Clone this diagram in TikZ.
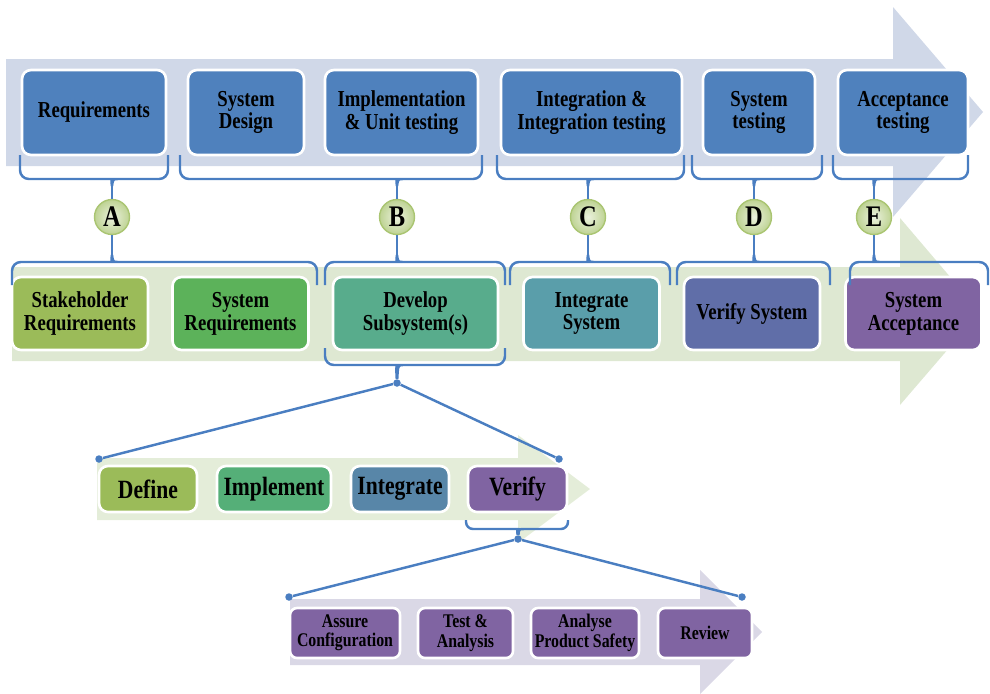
\documentclass[tikz,border=0pt]{standalone}
\usepackage{fontspec}
\setmainfont{Liberation Serif}[FakeStretch=0.82]
\usetikzlibrary{positioning}

\definecolor{phaseblue}{RGB}{79,129,189}
\definecolor{linec}{RGB}{74,126,193}
\definecolor{bandblue}{RGB}{208,216,232}
\definecolor{bandgreen}{RGB}{222,232,210}
\definecolor{bandlight}{RGB}{228,237,217}
\definecolor{bandlilac}{RGB}{218,216,230}
\definecolor{olive}{RGB}{155,187,89}
\definecolor{grass}{RGB}{92,178,90}
\definecolor{sea}{RGB}{88,172,140}
\definecolor{teal}{RGB}{90,158,170}
\definecolor{slate}{RGB}{96,110,168}
\definecolor{plum}{RGB}{128,100,162}
\definecolor{mint}{RGB}{85,175,120}
\definecolor{steel}{RGB}{88,134,168}

\begin{document}
\begin{tikzpicture}[x=0.02cm,y=-0.02cm,line join=round,
                    font=\bfseries\fontsize{13}{13}\selectfont]

  \tikzstyle{box} = [rectangle, rounded corners=0.18cm, draw=white, line width=1.5pt,
                     align=center, inner sep=0pt, text=black]
  \tikzstyle{phase} = [box, fill=phaseblue, minimum height=1.7cm]
  \tikzstyle{process} = [box, minimum height=1.46cm, minimum width=2.72cm]
  \tikzstyle{sub} = [box, minimum height=0.92cm, font=\bfseries\fontsize{15}{15}\selectfont]
  \tikzstyle{task} = [box, fill=plum, minimum height=1cm, rounded corners=0.14cm,
                      font=\bfseries\fontsize{11}{11}\selectfont]
  \tikzstyle{bracket} = [draw=linec, line width=1.4pt]
  \tikzstyle{gate} = [circle, draw=olive!85, line width=0.8pt, inner color=white!80!olive,
                      outer color=olive!65, minimum size=0.7cm, inner sep=0pt,
                      font=\bfseries\fontsize{17}{17}\selectfont]
  \tikzstyle{dot} = [circle, fill=linec, inner sep=0pt, minimum size=0.15cm]

  \useasboundingbox (0,0) rectangle (990,693);

  % background arrows
  \fill[bandblue] (6,59) -- (893,59) -- (893,7) -- (983,112) -- (893,217) -- (893,166) -- (6,166) -- cycle;
  \fill[bandgreen] (12,267) -- (900,267) -- (900,218) -- (980,312) -- (900,405) -- (900,361) -- (12,361) -- cycle;
  \fill[bandlight] (97,458) -- (518,458) -- (518,435) -- (590,489) -- (518,543) -- (518,520) -- (97,520) -- cycle;
  \fill[bandlilac] (290,599) -- (700,599) -- (700,570) -- (762,632) -- (700,694) -- (700,665) -- (290,665) -- cycle;

  % life cycle phases
  \node[phase, minimum width=2.88cm] (req)  at (94,112.5)    {Requirements};
  \node[phase, minimum width=2.32cm] (sysd) at (246,112.5)   {System\\Design};
  \node[phase, minimum width=3.06cm] (impl) at (401.5,112.5) {Implementation\\\& Unit testing};
  \node[phase, minimum width=3.62cm] (intg) at (591.5,112.5) {Integration \&\\Integration testing};
  \node[phase, minimum width=2.24cm] (syst) at (759,112.5)   {System\\testing};
  \node[phase, minimum width=2.6cm]  (acct) at (903,112.5)   {Acceptance\\testing};

  % processes
  \node[process, fill=olive] (stake) at (80,313.5)    {Stakeholder\\Requirements};
  \node[process, fill=grass] (sysr)  at (240.5,313.5) {System\\Requirements};
  \node[process, fill=sea, minimum width=3.3cm] (devs) at (415.5,313.5) {Develop\\Subsystem(s)};
  \node[process, fill=teal]  (ints)  at (591.5,313.5) {Integrate\\System};
  \node[process, fill=slate] (vers)  at (752,313.5)   {Verify System};
  \node[process, fill=plum]  (sacc)  at (913.5,313.5) {System\\Acceptance};

  \node[sub, fill=olive, minimum width=1.96cm] (def) at (148,489)   {Define};
  \node[sub, fill=mint,  minimum width=2.28cm] (imp) at (274,489)   {Implement};
  \node[sub, fill=steel, minimum width=1.96cm] (itg) at (400,489)   {Integrate};
  \node[sub, fill=plum,  minimum width=1.98cm] (ver) at (517.5,489) {Verify};

  \node[task, minimum width=2.2cm]  (conf) at (345,633)   {Assure\\Configuration};
  \node[task, minimum width=1.9cm]  (test) at (465.5,633) {Test \&\\Analysis};
  \node[task, minimum width=2.16cm] (safe) at (585,633)   {Analyse\\Product Safety};
  \node[task, minimum width=1.88cm] (rev)  at (705,633)   {Review};

  % brackets and letters
  \foreach \l/\r/\c/\ll/\rr/\n in {20/168/112/12/317/A, 180/482/397/325/505/B,
                                   497/684/588/510/670/C, 692/822/754/677/830/D,
                                   833/968/874/850/988/E} {
    \draw[bracket, rounded corners=5] (\l,155) |- (\c-6,179) [sharp corners]
      .. controls (\c-1,179) .. (\c,186) .. controls (\c+1,179) .. (\c+6,179)
      [rounded corners=5] -| (\r,155);
    \draw[bracket, rounded corners=5] (\ll,285) |- (\c-6,262) [sharp corners]
      .. controls (\c-1,262) .. (\c,255) .. controls (\c+1,262) .. (\c+6,262)
      [rounded corners=5] -| (\rr,285);
    \coordinate (t\n) at (\c,186);
    \coordinate (u\n) at (\c,255);
    \node[gate] (\n) at (\c,217) {\n};
    \draw[bracket] (t\n) -- (\n) -- (u\n);
  }

  % breakdown of develop subsystem(s)
  \node[dot] (split)  at (397,383) {};
  \node[dot] (defl)   at (99,459)  {};
  \node[dot] (verr)   at (559,459) {};
  \draw[bracket, rounded corners=5] (325,348) |- (391,365) [sharp corners]
    .. controls (396,365) .. (split) .. controls (398,365) .. (403,365)
    [rounded corners=5] -| (505,348);
  \draw[bracket] (split) -- (defl);
  \draw[bracket] (split) -- (verr);

  % breakdown of verify
  \node[dot] (vsplit) at (518,539) {};
  \node[dot] (confl)  at (289,597) {};
  \node[dot] (revr)   at (742,597) {};
  \draw[bracket, rounded corners=4] (466,520) |- (512,529) [sharp corners]
    .. controls (517,529) .. (vsplit) .. controls (519,529) .. (524,529)
    [rounded corners=4] -| (568,520);
  \draw[bracket] (vsplit) -- (confl);
  \draw[bracket] (vsplit) -- (revr);
\end{tikzpicture}
\end{document}
